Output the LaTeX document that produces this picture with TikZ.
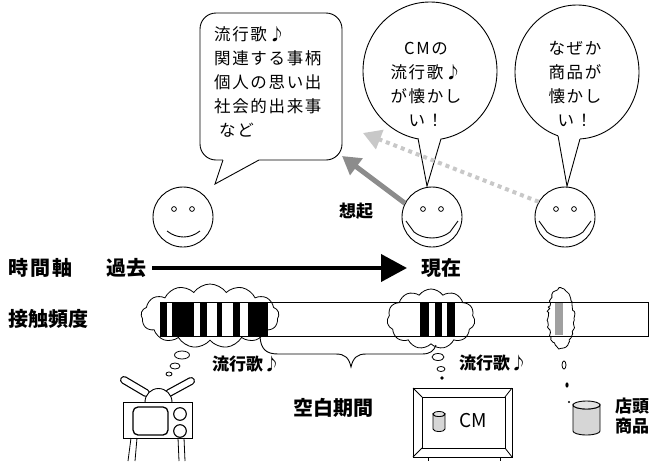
\documentclass[tikz,border=0pt]{standalone}
\usepackage{fontspec}
\newfontfamily\jp{Noto Sans CJK JP}
\usetikzlibrary{arrows.meta,shapes.symbols,decorations.pathmorphing}
\definecolor{recallgray}{HTML}{8C8C8C}
\definecolor{fadegray}{HTML}{C8C8C8}
\definecolor{stripegray}{HTML}{A0A0A0}
\definecolor{cangray}{HTML}{D6D6D6}
\begin{document}
\begin{tikzpicture}[x=1pt, y=-1pt,
  outline/.style={draw=black, line width=0.9pt},
  face/.style={circle, draw, line width=0.9pt, minimum size=60pt, inner sep=0pt},
  saytext/.style={font=\jp\addfontfeature{LetterSpace=10}\fontsize{16.5}{24}\selectfont, inner sep=0pt},
  heavy/.style={font=\jp\bfseries\fontsize{20}{24}\selectfont, inner sep=0pt},
  midheavy/.style={font=\jp\bfseries\fontsize{17}{21}\selectfont, inner sep=0pt},
  puff/.style={cloud, cloud puffs=13, cloud puff arc=110, cloud ignores aspect, draw, line width=0.8pt, inner sep=0pt},
  stripe/.style={fill=black},
]
\useasboundingbox (0,0) rectangle (653,461);
\fill[white] (0,0) rectangle (653,461);

% ---------- speech bubbles ----------
% rounded bubble (left)
\draw[outline, fill=white, rounded corners=16pt] (200,13) rectangle (342,160);
\fill[white] (223,157) -- (223,162) -- (215,184) -- (259,162) -- (259,157) -- cycle;
\draw[outline] (223,160) -- (215,184) -- (259,160);
\node[saytext, align=left, anchor=north west] (memo) at (214,26)
  {流行歌♪\\関連する事柄\\個人の思い出\\社会的出来事\\\hspace*{5pt}など};

% round bubble (middle)
\draw[outline, fill=white] (430,71) ellipse [x radius=67, y radius=69];
\fill[white] (418,135) -- (418,141) -- (427,186) -- (441,141) -- (441,135) -- cycle;
\draw[outline] (418,138.3) -- (427,186) -- (441,138.8);
\node[saytext, align=center] (cmsay) at (426,84)
  {CMの\\流行歌♪\\が懐かし\\い！};

% round bubble (right)
\draw[outline, fill=white] (577,72) ellipse [x radius=62, y radius=67];
\fill[white] (558,133) -- (558,139) -- (567,186) -- (580,141) -- (580,135) -- cycle;
\draw[outline] (558,135.8) -- (567,186) -- (580,138.9);
\node[saytext, align=center] (goodssay) at (575,84)
  {なぜか\\商品が\\懐かし\\い！};

% ---------- faces ----------
\node[face] (f1) at (183,217) {};
\node[face] (f2) at (432,217) {};
\node[face] (f3) at (565,217) {};
\foreach \c in {183,432,565} {
  \draw[line width=0.8pt] (\c-9,209) circle (2.4);
  \draw[line width=0.8pt] (\c+9,209) circle (2.4);
}
\draw[line width=0.9pt] (167,231) .. controls (177,239) and (190,239) .. (200,231);
\foreach \c in {432,565} {
  \draw[line width=0.9pt] (\c-26,221) -- (\c-18,232) .. controls (\c-8,240) and (\c+8,240) .. (\c+18,232) -- (\c+26,221);
}

% ---------- recall arrows ----------
\coordinate (recall) at (342,156);
\coordinate (faint) at (363,133);
\draw[fadegray, line width=4pt, dash pattern=on 4pt off 4pt,
  -{Triangle[length=18pt,width=20pt]}] (f3.150) -- (faint);
\draw[recallgray, line width=5pt, -{Triangle[length=18pt,width=20pt]}] (f2.153) -- (recall);
\node[midheavy] (recalllbl) at (356,211) {想起};

% ---------- time axis ----------
\node[heavy, anchor=west, font=\jp\bfseries\addfontfeature{LetterSpace=12}\fontsize{20}{24}\selectfont] (axislbl) at (8,268) {時間軸};
\node[heavy, anchor=west] (past) at (106,268) {過去};
\node[heavy, anchor=west] (now) at (421,268) {現在};
\draw[line width=4pt, -{Triangle[length=26pt,width=27pt]}] ([xshift=6pt]past.east) -- ([xshift=-14pt]now.west);

% ---------- contact frequency bar ----------
\node[heavy, anchor=west] (freqlbl) at (8,319) {接触頻度};
\draw[line width=0.9pt] (160,302) rectangle (648,336);
\node[puff, minimum width=138pt, minimum height=64pt] (cloudA) at (210,316) {};
\node[puff, cloud puffs=11, minimum width=88pt, minimum height=60pt] (cloudB) at (431,319) {};
\pgfmathsetseed{7}
\draw[line width=0.8pt, decorate, decoration={random steps, segment length=2.2pt, amplitude=1.1pt}]
  (561,318) ellipse [x radius=13, y radius=30];
% stripes of past contact
\foreach \a/\b in {160/167, 172/194, 200/207, 217/222, 233/240, 248/268} {
  \fill[stripe] (\a,302) rectangle (\b,336);
}
% stripes of recent contact
\foreach \a/\b in {420/429, 435/442, 447/455} {
  \fill[stripe] (\a,302) rectangle (\b,336);
}
\fill[stripegray] (555,303) rectangle (563,335);
\draw[line width=0.9pt] (160,302) rectangle (648,336);

% ---------- thought trails ----------
\draw[line width=0.8pt] (182,355) ellipse [x radius=7.5, y radius=4];
\draw[line width=0.8pt] (175,366) ellipse [x radius=5, y radius=3];
\draw[line width=0.8pt] (169,374) ellipse [x radius=3, y radius=2];
\draw[line width=0.8pt] (438,357) ellipse [x radius=6, y radius=3.5];
\draw[line width=0.8pt] (441,369) ellipse [x radius=4, y radius=2.5];
\fill (442,378) circle (1.8);
\draw[line width=0.8pt] (564,365) ellipse [x radius=2, y radius=4];
\fill (567,385) ellipse [x radius=1.6, y radius=2.6];
\fill (569,402) circle (1.2);

\node[midheavy] (songA) at (246,364) {流行歌♪};
\node[midheavy] (songB) at (493,363) {流行歌♪};

% blank period brace
\draw[line width=0.9pt] (260,337) .. controls (261,349) and (266,354) .. (278,354) -- (336,354)
  .. controls (345,354) and (349,358) .. (351,367)
  .. controls (353,358) and (357,354) .. (366,354) -- (422,354)
  .. controls (430,354) and (434,351) .. (436,345);
\node[heavy] (blank) at (333,408) {空白期間};

% ---------- old television ----------
\draw[line width=8pt, line cap=round] (124,380) -- (146,393);
\draw[white, line width=5.6pt, line cap=round] (124,380) -- (146,393);
\draw[line width=8pt, line cap=round] (191,381) -- (169,393);
\draw[white, line width=5.6pt, line cap=round] (191,381) -- (169,393);
\draw[line width=0.9pt, fill=white] (145,402) arc[start angle=180, end angle=360, radius=13.5];
\draw[line width=1pt, fill=white] (123,402) rectangle (192,438);
\draw[line width=1.3pt, rounded corners=5pt] (133,407) rectangle (168,435);
\draw[line width=1.1pt] (180,414) circle (6.3);
\draw[line width=1.1pt] (180,431) circle (6.3);
\draw[line width=0.8pt] (131,438) -- (128,461);
\draw[line width=0.8pt] (137,438) -- (135,461);
\draw[line width=0.8pt] (178,438) -- (179,461);
\draw[line width=0.8pt] (184,438) -- (185,461);

% ---------- CM television ----------
\draw[line width=1pt] (413,388) rectangle (512,457);
\draw[line width=1pt] (422,397) rectangle (505,448);
\draw[line width=0.8pt] (413,388) -- (422,397) (512,388) -- (505,397)
  (413,457) -- (422,448) (512,457) -- (505,448);
\draw[line width=1pt] (428,457) -- (428,461) (500,457) -- (500,461);
\filldraw[line width=0.8pt, fill=cangray] (433,414) -- (433,429)
  arc[start angle=180, end angle=0, x radius=6, y radius=2.5] -- (445,414)
  arc[start angle=0, end angle=180, x radius=6, y radius=2.5] -- cycle;
\draw[line width=0.8pt, fill=cangray!70] (439,414) ellipse [x radius=6, y radius=2.5];
\node[font=\jp\fontsize{19}{22}\selectfont, inner sep=0pt] (cmlbl) at (473,421) {CM};

% ---------- shop product ----------
\filldraw[line width=0.9pt, fill=cangray] (573,405) -- (573,431)
  arc[start angle=180, end angle=0, x radius=13.5, y radius=4] -- (600,405)
  arc[start angle=0, end angle=180, x radius=13.5, y radius=4] -- cycle;
\draw[line width=0.9pt, fill=cangray!70] (586.5,405) ellipse [x radius=13.5, y radius=4];
\node[midheavy, align=left, anchor=west, font=\jp\bfseries\fontsize{17}{20}\selectfont] (shop) at (615,416) {店頭\\商品};
\end{tikzpicture}
\end{document}
